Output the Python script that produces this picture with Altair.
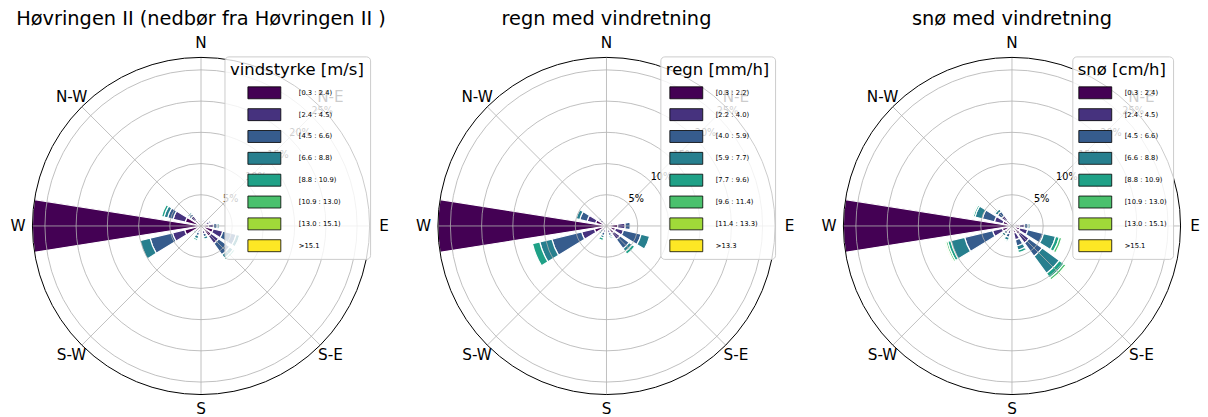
import math
import altair as alt
import pandas as pd

# ---------------- data ----------------
TITLES = ["Høvringen II (nedbør fra Høvringen II )", "regn med vindretning", "snø med vindretning"]
LEGEND_TITLES = ["vindstyrke [m/s]", "regn [mm/h]", "snø [cm/h]"]

VIND_LABELS = ["[0.3 : 2.4)", "[2.4 : 4.5)", "[4.5 : 6.6)", "[6.6 : 8.8)",
               "[8.8 : 10.9)", "[10.9 : 13.0)", "[13.0 : 15.1)", ">15.1"]
REGN_LABELS = ["[0.3 : 2.2)", "[2.2 : 4.0)", "[4.0 : 5.9)", "[5.9 : 7.7)",
               "[7.7 : 9.6)", "[9.6 : 11.4)", "[11.4 : 13.3)", ">13.3"]
SNO_LABELS = ["[0.3 : 2.4)", "[2.4 : 4.5)", "[4.5 : 6.6)", "[6.6 : 8.8)",
              "[8.8 : 10.9)", "[10.9 : 13.0)", "[13.0 : 15.1)", ">15.1"]

SECTORS = ["N", "NNE", "NE", "ENE", "E", "ESE", "SE", "SSE",
           "S", "SSW", "SW", "WSW", "W", "WNW", "NW", "NNW"]
COMPASS = ["N", "N-E", "E", "S-E", "S", "S-W", "W", "N-W"]
RING_TICKS = [5, 10, 15, 20, 25]

# percent frequency per sector (N .. NNW) for each bin
VIND_B0 = [0.4, 0.6, 0.7, 0.9, 1.2, 2.0, 2.0, 0.8, 0.5, 0.6, 0.5, 2.7, 27.0, 2.6, 1.2, 0.5]
VIND_B1 = [0.2, 0.3, 0.4, 0.5, 0.8, 1.6, 1.5, 0.5, 0.3, 0.5, 0.4, 2.0, 0.0, 2.0, 0.8, 0.4]
VIND_B2 = [0.1, 0.2, 0.2, 0.3, 0.6, 2.2, 2.2, 0.5, 0.2, 0.5, 0.3, 3.7, 0.0, 0.9, 0.4, 0.2]
VIND_B3 = [0.0, 0.1, 0.1, 0.1, 0.3, 0.6, 0.7, 0.4, 0.1, 0.5, 0.3, 1.7, 0.0, 0.6, 0.3, 0.1]
VIND_B4 = [0.0, 0.0, 0.0, 0.0, 0.0, 0.2, 0.3, 0.2, 0.0, 0.3, 0.1, 0.1, 0.0, 0.4, 0.0, 0.0]
VIND_B5 = [0.0, 0.0, 0.0, 0.0, 0.0, 0.0, 0.0, 0.0, 0.0, 0.0, 0.0, 0.0, 0.0, 0.0, 0.0, 0.0]
VIND_B6 = [0.0, 0.0, 0.0, 0.0, 0.0, 0.0, 0.0, 0.0, 0.0, 0.0, 0.0, 0.0, 0.0, 0.0, 0.0, 0.0]
VIND_B7 = [0.0, 0.0, 0.0, 0.0, 0.0, 0.0, 0.0, 0.0, 0.0, 0.0, 0.0, 0.0, 0.0, 0.0, 0.0, 0.0]

REGN_B0 = [0.3, 0.4, 0.5, 0.7, 1.8, 1.5, 1.5, 0.7, 0.5, 0.6, 0.5, 2.0, 27.0, 1.8, 0.8, 0.4]
REGN_B1 = [0.2, 0.2, 0.3, 0.4, 1.2, 1.3, 1.2, 0.5, 0.3, 0.5, 0.4, 2.1, 0.0, 1.4, 0.5, 0.3]
REGN_B2 = [0.1, 0.1, 0.1, 0.2, 0.8, 2.9, 1.8, 0.4, 0.2, 0.5, 0.4, 4.9, 0.0, 1.2, 0.3, 0.1]
REGN_B3 = [0.0, 0.0, 0.0, 0.0, 0.0, 1.4, 0.6, 0.3, 0.1, 0.4, 0.3, 2.0, 0.0, 0.6, 0.2, 0.0]
REGN_B4 = [0.0, 0.0, 0.0, 0.0, 0.0, 0.0, 0.5, 0.2, 0.0, 0.4, 0.2, 1.2, 0.0, 0.0, 0.0, 0.0]
REGN_B5 = [0.0, 0.0, 0.0, 0.0, 0.0, 0.0, 0.0, 0.0, 0.0, 0.0, 0.0, 0.0, 0.0, 0.0, 0.0, 0.0]
REGN_B6 = [0.0, 0.0, 0.0, 0.0, 0.0, 0.0, 0.0, 0.0, 0.0, 0.0, 0.0, 0.0, 0.0, 0.0, 0.0, 0.0]
REGN_B7 = [0.0, 0.0, 0.0, 0.0, 0.0, 0.0, 0.0, 0.0, 0.0, 0.0, 0.0, 0.0, 0.0, 0.0, 0.0, 0.0]

SNO_B0 = [0.3, 0.3, 0.4, 0.5, 1.2, 1.3, 1.7, 1.2, 0.5, 0.7, 0.6, 1.6, 27.0, 1.5, 1.2, 0.5]
SNO_B1 = [0.2, 0.2, 0.3, 0.4, 0.8, 1.3, 1.7, 1.1, 0.4, 0.6, 0.5, 1.6, 0.0, 1.4, 0.9, 0.3]
SNO_B2 = [0.1, 0.1, 0.1, 0.2, 0.6, 2.6, 2.6, 1.0, 0.2, 0.6, 0.5, 4.6, 0.0, 2.0, 0.8, 0.2]
SNO_B3 = [0.0, 0.0, 0.0, 0.0, 0.3, 2.0, 3.4, 0.7, 0.0, 0.5, 0.4, 2.3, 0.0, 1.2, 0.5, 0.0]
SNO_B4 = [0.0, 0.0, 0.0, 0.0, 0.0, 0.6, 0.9, 0.4, 0.0, 0.2, 0.2, 0.5, 0.0, 0.3, 0.2, 0.0]
SNO_B5 = [0.0, 0.0, 0.0, 0.0, 0.0, 0.4, 0.4, 0.0, 0.0, 0.0, 0.0, 0.3, 0.0, 0.2, 0.0, 0.0]
SNO_B6 = [0.0, 0.0, 0.0, 0.0, 0.0, 0.0, 0.2, 0.0, 0.0, 0.0, 0.0, 0.2, 0.0, 0.0, 0.0, 0.0]
SNO_B7 = [0.0, 0.0, 0.0, 0.0, 0.0, 0.0, 0.0, 0.0, 0.0, 0.0, 0.0, 0.0, 0.0, 0.0, 0.0, 0.0]

# ---------------- style / layout ----------------
VIRIDIS = ["#440154", "#46327e", "#365c8d", "#277f8e", "#1fa187", "#4ac16d", "#a0da39", "#fde725"]
FONT = "DejaVu Sans"
GRID = "#b0b0b0"
R_PX = 169          # outer radius of each rose
LABEL_R_PX = 183.5  # radius of compass labels
CX = 193.5          # centre x inside a panel
CY = 218            # centre y inside a panel
H = 401
PANEL_W = [387, 387, 379]
SPACING = 19.5
OPENING = 18        # degrees of each bar
TITLE_Y = 11
LEG_X = [217, 247.5, 254]
LEG_Y = 48
SYM_INDENT = [18, 4, 1]
LABEL_GAP = [28, 23, 23]
SYM_PATH = "M-2.75,-1H2.75V1H-2.75Z"


def build_panel(title, leg_title, labels, bins, width, lx, indent, gap):
    totals = [sum(b[i] for b in bins) for i in range(len(SECTORS))]
    rmax = max(totals)
    ppp = R_PX / rmax

    rows = []
    for i, sec in enumerate(SECTORS):
        deg = i * 360 / len(SECTORS)
        base = 0.0
        for k, b in enumerate(bins):
            v = b[i]
            if v <= 0:
                continue
            rows.append({"sector": sec, "t0": deg - OPENING / 2, "t1": deg + OPENING / 2,
                         "r0": base, "r1": base + v, "bin": labels[k], "cx": 0.0, "cy": 0.0})
            base += v
    bars_df = pd.DataFrame(rows)

    xs = alt.Scale(domain=[-CX / ppp, (width - CX) / ppp], nice=False, zero=False)
    ys = alt.Scale(domain=[-(H - CY) / ppp, CY / ppp], nice=False, zero=False)
    rs = alt.Scale(type="linear", domain=[0, rmax], range=[0, R_PX], nice=False, zero=True)
    ts = alt.Scale(type="linear", domain=[0, 360], range=[0, 2 * math.pi], nice=False, zero=False)

    def X(f):
        return alt.X(f, type="quantitative", scale=xs, axis=None)

    def Y(f):
        return alt.Y(f, type="quantitative", scale=ys, axis=None)

    legend = alt.Legend(
        title=leg_title, orient="none", legendX=lx, legendY=LEG_Y, direction="vertical",
        fillColor="rgba(255,255,255,0.8)", strokeColor="#cccccc", cornerRadius=4, padding=5.5,
        titleFontSize=16.5, titleFontWeight="normal", titleColor="black", titleFont=FONT,
        titlePadding=8, labelFontSize=6.8, labelFont=FONT, labelColor="black",
        labelOffset=gap, symbolType=SYM_PATH, symbolSize=144,
        symbolStrokeColor="black", symbolStrokeWidth=0.8, symbolOffset=indent + 10,
        symbolOpacity=1, rowPadding=4.9,
    )

    bars = alt.Chart(bars_df).mark_arc(stroke="white", strokeWidth=1.2).encode(
        x=X("cx"), y=Y("cy"),
        theta=alt.Theta("t0:Q", scale=ts, stack=False),
        theta2=alt.Theta2("t1:Q"),
        radius=alt.Radius("r1:Q", scale=rs),
        radius2=alt.Radius2("r0:Q"),
        color=alt.Color("bin:N", scale=alt.Scale(domain=labels, range=VIRIDIS), legend=legend),
    )

    ring_df = pd.DataFrame({"r": RING_TICKS, "a0": 0.0, "a1": 360.0, "cx": 0.0, "cy": 0.0})
    rings = alt.Chart(ring_df).mark_arc(fillOpacity=0, stroke=GRID, strokeWidth=0.8).encode(
        x=X("cx"), y=Y("cy"),
        theta=alt.Theta("a0:Q", scale=ts, stack=False), theta2=alt.Theta2("a1:Q"),
        radius=alt.Radius("r:Q", scale=rs),
    )

    outer_df = pd.DataFrame({"r": [rmax], "a0": [0.0], "a1": [360.0], "cx": [0.0], "cy": [0.0]})
    outer = alt.Chart(outer_df).mark_arc(fillOpacity=0, stroke="black", strokeWidth=1).encode(
        x=X("cx"), y=Y("cy"),
        theta=alt.Theta("a0:Q", scale=ts, stack=False), theta2=alt.Theta2("a1:Q"),
        radius=alt.Radius("r:Q", scale=rs),
    )

    ang = [i * 360 / len(COMPASS) for i in range(len(COMPASS))]
    spoke_df = pd.DataFrame({
        "cx": [0.0] * len(ang), "cy": [0.0] * len(ang),
        "ex": [rmax * math.sin(math.radians(a)) for a in ang],
        "ey": [rmax * math.cos(math.radians(a)) for a in ang],
    })
    spokes = alt.Chart(spoke_df).mark_rule(color=GRID, strokeWidth=0.8).encode(
        x=X("cx"), y=Y("cy"), x2=alt.X2("ex:Q"), y2=alt.Y2("ey:Q"),
    )

    s45 = math.sin(math.radians(45))
    rl_df = pd.DataFrame({
        "t": [f"{r}%" for r in RING_TICKS],
        "x": [r * s45 for r in RING_TICKS],
        "y": [r * s45 for r in RING_TICKS],
    })
    rlabels = alt.Chart(rl_df).mark_text(align="left", baseline="bottom", fontSize=9.7,
                                         font=FONT, color="black").encode(
        x=X("x"), y=Y("y"), text="t:N",
    )

    lr = LABEL_R_PX / ppp
    dl_df = pd.DataFrame({
        "t": COMPASS,
        "x": [lr * math.sin(math.radians(a)) for a in ang],
        "y": [lr * math.cos(math.radians(a)) for a in ang],
    })
    dlabels = alt.Chart(dl_df).mark_text(align="center", baseline="middle", fontSize=15.3,
                                         font=FONT, color="black").encode(
        x=X("x"), y=Y("y"), text="t:N",
    )

    t_df = pd.DataFrame({"t": [title], "x": [0.0], "y": [(CY - TITLE_Y) / ppp]})
    tmark = alt.Chart(t_df).mark_text(align="center", baseline="middle", fontSize=19.4,
                                      font=FONT, color="black").encode(
        x=X("x"), y=Y("y"), text="t:N",
    )

    return alt.layer(bars, rings, spokes, outer, rlabels, dlabels, tmark).properties(
        width=width, height=H)


p1 = build_panel(TITLES[0], LEGEND_TITLES[0], VIND_LABELS,
                 [VIND_B0, VIND_B1, VIND_B2, VIND_B3, VIND_B4, VIND_B5, VIND_B6, VIND_B7],
                 PANEL_W[0], LEG_X[0], SYM_INDENT[0], LABEL_GAP[0])
p2 = build_panel(TITLES[1], LEGEND_TITLES[1], REGN_LABELS,
                 [REGN_B0, REGN_B1, REGN_B2, REGN_B3, REGN_B4, REGN_B5, REGN_B6, REGN_B7],
                 PANEL_W[1], LEG_X[1], SYM_INDENT[1], LABEL_GAP[1])
p3 = build_panel(TITLES[2], LEGEND_TITLES[2], SNO_LABELS,
                 [SNO_B0, SNO_B1, SNO_B2, SNO_B3, SNO_B4, SNO_B5, SNO_B6, SNO_B7],
                 PANEL_W[2], LEG_X[2], SYM_INDENT[2], LABEL_GAP[2])

chart = (
    alt.hconcat(p1, p2, p3, spacing=SPACING, bounds="flush")
    .resolve_scale(color="independent", x="independent", y="independent")
    .resolve_legend(color="independent")
    .properties(padding=0, background="white")
    .configure(font=FONT)
    .configure_view(strokeWidth=0)
)

chart.save("out.html", embed_options={"renderer": "svg", "actions": False})
